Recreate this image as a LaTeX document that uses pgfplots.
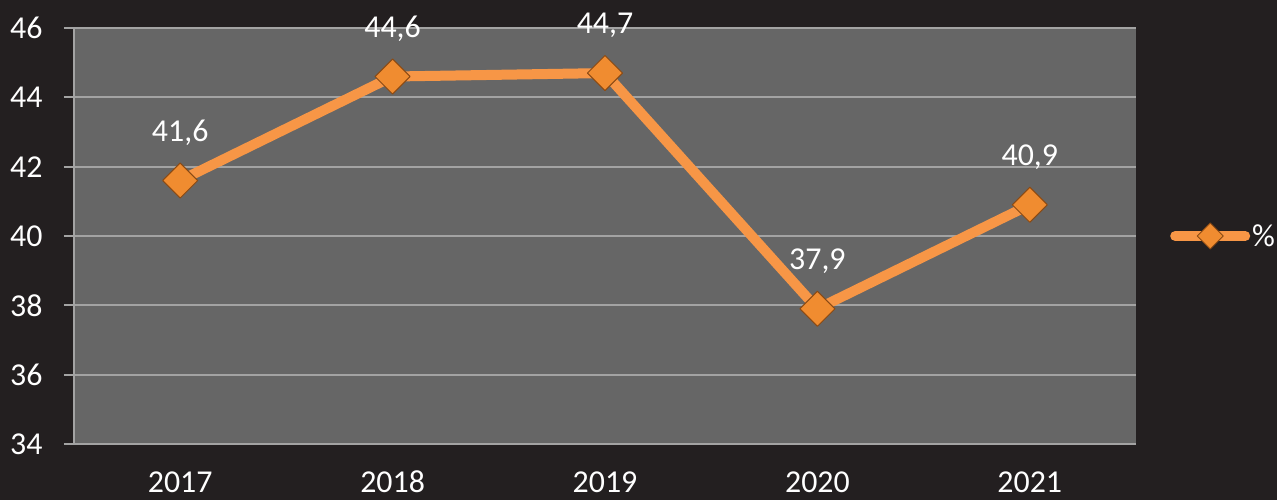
\documentclass[border=0pt]{standalone}
\usepackage{pgfplots}
\pgfplotsset{compat=1.18}
\usepackage{fontspec}
\setmainfont{Carlito}
\definecolor{bg}{HTML}{231F20}
\definecolor{plotbg}{HTML}{666666}
\definecolor{gridc}{HTML}{A3A3A3}
\definecolor{orangeL}{HTML}{F79646}
\definecolor{markf}{HTML}{F08C30}
\definecolor{markd}{HTML}{8A4A14}
\begin{document}
\begin{tikzpicture}
\fill[bg] (0,0) rectangle (1277bp,500bp);
\path[use as bounding box] (0,0) rectangle (1277bp,500bp);
\begin{axis}[
  at={(74bp,56bp)}, anchor=south west,
  scale only axis, width=1062bp, height=416bp,
  xmin=-0.5, xmax=4.5, ymin=34, ymax=46,
  ytick={34,36,...,46},
  xtick={0,...,4}, xticklabels={2017,2018,2019,2020,2021},
  axis x line*=bottom, axis y line*=left,
  axis line style={gridc, line width=2bp, -},
  axis background/.style={fill=plotbg},
  ymajorgrids, grid style={gridc, line width=2bp},
  tick style={gridc, line width=2bp},
  x tick style={draw=none},
  tick align=outside, major tick length=10bp,
  extra x ticks={-0.5,0.5,1.5,2.5,3.5,4.5},
  extra x tick labels={},
  extra x tick style={grid=none, major tick length=8bp, tick style={draw=gridc, line width=2bp}},
  tick label style={font=\fontsize{32}{38}\selectfont, text=white},
  /pgf/number format/assume math mode=true,
  yticklabel style={anchor=east, xshift=-18bp},
  xticklabel style={anchor=center, yshift=-28bp},
  legend style={at={(1.0,0.5)}, anchor=west, xshift=34bp, draw=none, fill=none,
    text=white, font=\fontsize{32}{38}\selectfont, inner sep=0pt},
  legend image code/.code={%
    \draw[line width=10bp, line cap=round, draw=orangeL] (0bp,0bp) -- (70bp,0bp);
    \draw[markd, fill=markf, line width=1bp] (35bp,-13bp) -- (48bp,0bp) -- (35bp,13bp) -- (22bp,0bp) -- cycle;
  },
  nodes near coords,
  point meta=y,
  nodes near coords style={font=\fontsize{32}{38}\selectfont, text=white, anchor=center, yshift=48bp,
    /pgf/number format/.cd, fixed, fixed zerofill, precision=1, use comma, assume math mode=true},
  clip=false,
]
\addplot[draw=orangeL, line width=10bp, line join=round,
  mark=square*, mark size=12.4bp,
  mark options={rotate=45, draw=markd, fill=markf, line width=1bp}]
  coordinates {(0,41.6) (1,44.6) (2,44.7) (3,37.9) (4,40.9)};
\addlegendentry{\%}
\end{axis}
\end{tikzpicture}
\end{document}
